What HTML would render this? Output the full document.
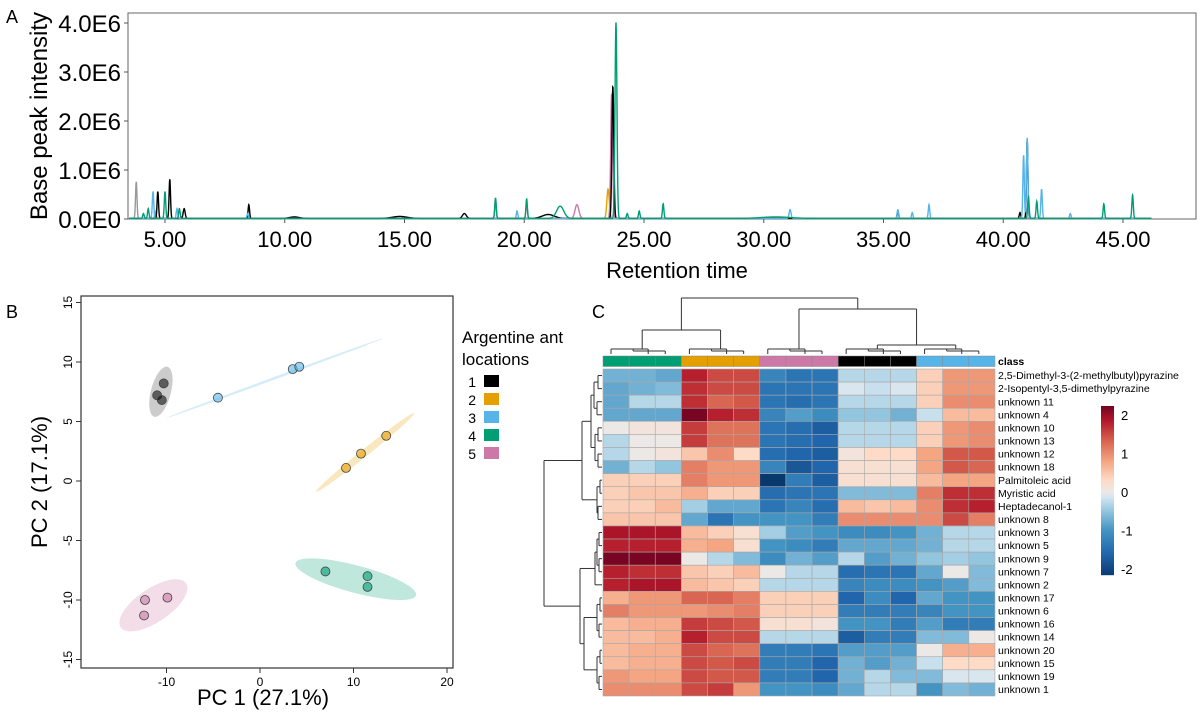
<!DOCTYPE html>
<html><head><meta charset="utf-8">
<style>
html,body{margin:0;padding:0;background:#fff;}
svg{display:block;font-family:"Liberation Sans",Arial,sans-serif;}
</style></head>
<body>
<svg id="fig" width="1200" height="720" viewBox="0 0 1200 720">
  <rect x="0" y="0" width="1200" height="720" fill="#fff"/>
  <!-- Panel A -->
  <g id="panelA">
    <text x="6" y="23" font-size="18">A</text>
    <rect x="128" y="13" width="1068" height="206" fill="none" stroke="#666" stroke-width="1"/>
    <text transform="translate(47,116) rotate(-90)" text-anchor="middle" font-size="24">Base peak intensity</text>
    <text x="677" y="278" text-anchor="middle" font-size="22">Retention time</text>
    <g id="aTicks"></g>
    <g id="aLines"></g>
  </g>
  <!-- Panel B -->
  <g id="panelB">
    <text x="6" y="318" font-size="18">B</text>
    <g id="bEll"></g>
    <g id="bPts"></g>
    <rect x="81" y="296" width="372" height="372" fill="none" stroke="#333" stroke-width="1.2"/>
    <g id="bTicks"></g>
    <text x="263" y="705" text-anchor="middle" font-size="22">PC 1 (27.1%)</text>
    <text transform="translate(47,482) rotate(-90)" text-anchor="middle" font-size="22">PC 2 (17.1%)</text>
    <g>
      <text x="462" y="343" font-size="17">Argentine ant</text>
      <text x="462" y="365" font-size="17">locations</text>
      <g id="legendItems"></g>
    </g>
  </g>
  <!-- Panel C -->
  <g id="panelC">
    <text x="592" y="318" font-size="18">C</text>
    <g id="cDend" fill="none" stroke="#333" stroke-width="1"></g>
    <g id="cClass"></g>
    <g id="cCells"></g>
    <g id="cLabels"></g>
    <g id="cBar"></g>
  </g>
</svg>
<script>
const NS='http://www.w3.org/2000/svg';
function mk(tag,attrs,parent){const e=document.createElementNS(NS,tag);for(const k in attrs)e.setAttribute(k,attrs[k]);parent.appendChild(e);return e;}
const COLORS={black:'#000000',orange:'#E69F00',blue:'#56B4E9',green:'#009E73',pink:'#CC79A7',grey:'#999999'};

// ===== Panel A data =====
const aXTicks=[5,10,15,20,25,30,35,40,45];
const aXTickLabels=['5.00','10.00','15.00','20.00','25.00','30.00','35.00','40.00','45.00'];
const aYTicks=[0,1,2,3,4];
const aYTickLabels=['0.0E0','1.0E6','2.0E6','3.0E6','4.0E6'];
// peaks: [retention time, intensity (E6), width (min)]
const peaksGrey=[[3.8,0.75,0.03]];
const peaksBlack=[[4.7,0.55,0.03],[5.2,0.8,0.03],[5.8,0.2,0.04],[8.5,0.28,0.03],[10.4,0.03,0.2],[14.8,0.04,0.3],[17.5,0.1,0.08],[21.0,0.08,0.25],[23.7,2.7,0.04],[35.6,0.15,0.03],[40.7,0.12,0.03],[41.0,1.6,0.03]];
const peaksOrange=[[4.6,0.15,0.03],[23.5,0.6,0.05]];
const peaksBlue=[[4.5,0.55,0.03],[5.5,0.2,0.03],[8.45,0.1,0.03],[19.7,0.15,0.03],[31.1,0.18,0.04],[35.6,0.18,0.03],[36.2,0.12,0.03],[36.9,0.28,0.03],[40.85,1.3,0.03],[41.0,1.65,0.03],[41.6,0.6,0.03],[42.8,0.1,0.03]];
const peaksGreen=[[4.1,0.1,0.03],[4.3,0.2,0.03],[5.0,0.55,0.03],[5.6,0.2,0.03],[18.8,0.42,0.03],[20.1,0.4,0.03],[21.5,0.25,0.15],[23.83,4.0,0.04],[24.3,0.1,0.03],[24.8,0.15,0.03],[25.8,0.3,0.03],[30.5,0.03,0.6],[41.05,0.45,0.03],[41.4,0.35,0.03],[44.2,0.3,0.03],[45.4,0.48,0.03]];
const peaksPink=[[18.8,0.4,0.03],[20.1,0.3,0.03],[22.2,0.28,0.08],[23.65,2.55,0.04]];
const aSeries=[['grey',peaksGrey],['orange',peaksOrange],['pink',peaksPink],['black',peaksBlack],['blue',peaksBlue],['green',peaksGreen]];

const ax=t=>165+(t-5)*23.95;
const ay=v=>219-v*49;
(function(){
  const g=document.getElementById('aTicks');
  aXTicks.forEach((t,i)=>{
    const l=mk('line',{x1:ax(t),x2:ax(t),y1:219,y2:223,stroke:'#555'},g);
    
    
    const tx=mk('text',{x:ax(t),y:247,'text-anchor':'middle','font-size':22},g);tx.textContent=aXTickLabels[i];
    
    
  });
  aYTicks.forEach((v,i)=>{
    const l=mk('line',{x1:124,x2:128,y1:ay(v),y2:ay(v),stroke:'#555'},g);
    
    
    const tx=mk('text',{x:121,y:ay(v)+9,'text-anchor':'end','font-size':24},g);tx.textContent=aYTickLabels[i];
    
    
  });
  const lg=document.getElementById('aLines');
  aSeries.forEach(([c,peaks])=>{
    const pts=[];
    for(let px=129;px<=ax(46.2);px+=0.25){
      const t=5+(px-165)/23.95;let v=0.012;
      peaks.forEach(([pt,h,w])=>{const d=(t-pt)/w;if(Math.abs(d)<6)v+=h*Math.exp(-0.5*d*d);});
      pts.push(px.toFixed(2)+','+ay(v).toFixed(2));
    }
    const p=mk('polyline',{points:pts.join(' '),fill:'none',stroke:COLORS[c],'stroke-width':1.4},lg);
    
    
  });
})();

// ===== Panel B data =====
const bTicksX=[-10,0,10,20];
const bTicksY=[-15,-10,-5,0,5,10,15];
const bGroups=['black','orange','blue','green','pink'];
const bPC1=[[-10.3,-11,-10.5],[9.2,10.8,13.5],[3.5,4.2,-4.5],[7,11.5,11.5],[-12.3,-12.4,-9.9]];
const bPC2=[[8.2,7.2,6.8],[1.1,2.3,3.8],[9.4,9.6,7.0],[-7.6,-8.0,-8.9],[-10.0,-11.3,-9.8]];
const bEllEnds=[[-11.3,5.4,-9.9,9.6],[6,-0.9,16.5,5.7],[-10,5.3,13.2,12.0],[3.8,-6.9,16.7,-9.6],[-14.9,-12.3,-7.9,-8.6]];
const bEllMinor=[0.95,0.35,0.12,1.3,1.6];
const bx=v=>260+v*9.35;
const by=v=>481-v*11.9;
(function(){
  const g=document.getElementById('bTicks');
  bTicksX.forEach(v=>{
    const l=mk('line',{x1:bx(v),x2:bx(v),y1:668,y2:673,stroke:'#333'},g);
    
    
    const t=mk('text',{x:bx(v),y:686,'text-anchor':'middle','font-size':12},g);t.textContent=v;
    
    
  });
  bTicksY.forEach(v=>{
    const l=mk('line',{x1:76,x2:81,y1:by(v),y2:by(v),stroke:'#333'},g);
    
    
    const t=mk('text',{transform:`translate(72,${by(v)}) rotate(-90)`,'text-anchor':'middle','font-size':12},g);t.textContent=v;
    
    
  });
  const eg=document.getElementById('bEll'),pg=document.getElementById('bPts');
  bGroups.forEach((c,i)=>{
    const [x1,y1,x2,y2]=bEllEnds[i];
    const X1=bx(x1),Y1=by(y1),X2=bx(x2),Y2=by(y2);
    const cx=(X1+X2)/2,cy=(Y1+Y2)/2,rx=Math.hypot(X2-X1,Y2-Y1)/2,ang=Math.atan2(Y2-Y1,X2-X1)*180/Math.PI;
    const ry=Math.max(1.2,bEllMinor[i]*10.5);
    const e=mk('ellipse',{cx,cy,rx,ry,transform:`rotate(${ang} ${cx} ${cy})`,fill:COLORS[c==='black'?'grey':c],'fill-opacity':c==='black'?0.5:0.25},eg);
    
    
    bPC1[i].forEach((v,j)=>{
      const p=mk('circle',{cx:bx(v),cy:by(bPC2[i][j]),r:4.5,fill:COLORS[c],'fill-opacity':c==='black'?0.55:0.6,stroke:'#444','stroke-width':0.8},pg);
      
      
    });
  });
  const lg=document.getElementById('legendItems');
  bGroups.forEach((c,i)=>{
    const y=381+i*18;
    const t=mk('text',{x:476,y:y+6,'text-anchor':'end','font-size':14},lg);t.textContent=i+1;
    
    
    const r=mk('rect',{x:484,y:y-6,width:15,height:12,fill:COLORS[c]},lg);
    
    
  });
})();

// ===== Panel C data =====
const cRows=['2,5-Dimethyl-3-(2-methylbutyl)pyrazine','2-Isopentyl-3,5-dimethylpyrazine','unknown 11','unknown 4','unknown 10','unknown 13','unknown 12','unknown 18','Palmitoleic acid','Myristic acid','Heptadecanol-1','unknown 8','unknown 3','unknown 5','unknown 9','unknown 7','unknown 2','unknown 17','unknown 6','unknown 16','unknown 14','unknown 20','unknown 15','unknown 19','unknown 1'];
const cClasses=['green','green','green','orange','orange','orange','pink','pink','pink','black','black','black','blue','blue','blue'];
const cValues=[
[-0.7,-0.7,-0.8,1.8,1.5,1.5,-1.2,-1.4,-1.4,-0.3,-0.3,-0.3,0.4,0.9,0.9],
[-0.8,-0.7,-0.6,1.7,1.5,1.5,-1.4,-1.4,-1.4,-0.1,-0.2,-0.1,0.4,0.9,0.9],
[-0.8,-0.3,-0.3,1.7,1.3,1.4,-1.4,-1.5,-1.4,-0.3,-0.3,-0.3,0.4,1.0,1.0],
[-0.8,-0.8,-0.8,2.2,1.8,1.7,-1.2,-0.9,-1.1,-0.5,-0.5,-0.7,-0.2,0.6,0.6],
[0.0,0.1,0.1,1.6,1.2,1.2,-1.4,-1.5,-1.7,-0.3,-0.3,-0.3,0.4,0.9,1.0],
[-0.3,0.0,0.0,1.6,1.2,1.2,-1.4,-1.5,-1.6,-0.3,-0.3,-0.3,0.4,0.9,1.0],
[-0.3,0.0,0.1,0.5,1.0,0.3,-1.5,-1.6,-1.7,0.1,0.3,0.3,0.8,1.4,1.4],
[-0.7,-0.3,-0.5,1.1,0.9,0.9,-1.2,-1.8,-1.6,0.2,0.2,0.2,0.8,1.4,1.3],
[0.4,0.4,0.4,1.1,0.9,0.9,-2.2,-1.3,-1.7,0.2,0.2,0.2,0.6,0.8,0.8],
[0.4,0.5,0.5,0.7,0.4,0.4,-1.5,-1.4,-1.4,-0.6,-0.6,-0.6,1.1,1.7,1.7],
[0.4,0.4,0.6,-0.4,-0.8,-0.8,-1.4,-1.2,-1.5,0.6,0.5,0.6,1.0,1.7,1.8],
[0.5,0.5,0.5,-0.8,-1.4,-1.0,-1.0,-1.0,-1.3,1.0,1.0,1.0,1.0,1.5,1.1],
[1.9,1.9,1.9,0.6,0.4,0.2,-0.4,-0.9,-1.0,-1.1,-1.1,-1.0,-0.7,-0.3,-0.3],
[1.8,1.8,1.8,0.7,0.8,0.2,-1.0,-1.1,-1.3,-0.8,-0.8,-0.8,-0.7,-0.3,-0.3],
[2.2,2.2,2.2,0.0,-0.3,-0.6,-1.1,-0.7,-0.9,-0.3,-0.9,-0.7,-0.5,-0.4,-0.5],
[1.8,1.7,1.7,0.5,0.4,0.6,0.0,-0.3,-0.3,-1.5,-1.4,-1.4,-0.8,0.0,-0.6],
[1.8,1.9,1.9,0.6,0.5,0.4,-0.3,-0.3,-0.3,-1.2,-1.1,-1.1,-1.0,-0.9,-0.6],
[0.7,0.9,0.9,1.3,1.3,1.1,0.4,0.4,0.4,-1.6,-1.1,-1.6,-0.8,-1.0,-1.0],
[1.1,0.9,0.9,0.9,1.0,1.1,0.4,0.4,0.4,-1.3,-1.3,-1.3,-1.2,-1.0,-1.0],
[0.6,0.7,0.7,1.6,1.5,1.4,0.2,0.2,0.1,-1.0,-1.0,-1.3,-0.9,-1.3,-1.3],
[0.6,0.6,0.7,1.8,1.5,1.5,-0.3,-0.3,-0.3,-1.7,-1.3,-1.3,-0.6,-0.6,0.0],
[0.6,0.7,0.7,1.5,1.3,1.2,-1.3,-1.3,-1.4,-0.9,-0.9,-0.9,0.0,0.7,0.7],
[0.6,0.7,0.7,1.5,1.4,1.5,-1.3,-1.3,-1.6,-0.7,-0.9,-0.7,-0.2,0.3,0.3],
[0.9,0.8,0.8,1.5,1.4,1.4,-1.3,-1.3,-1.6,-0.7,-0.3,-0.6,-0.6,-0.1,-0.1],
[1.0,1.0,1.0,1.5,1.6,0.9,-1.0,-1.0,-1.1,-0.8,-0.3,-0.3,-1.0,-0.6,-0.7]];
const cBarTicks=[2,1,0,-1,-2];

const stops=[[-2.3,[5,48,97]],[-1.6,[33,102,172]],[-1.0,[67,147,195]],[-0.5,[146,197,222]],[-0.15,[209,229,240]],[0,[236,232,230]],[0.3,[253,219,199]],[0.8,[244,165,130]],[1.35,[214,96,77]],[1.85,[178,24,43]],[2.3,[103,0,31]]];
function col(v){
  if(v<=stops[0][0])return `rgb(${stops[0][1]})`;
  for(let i=1;i<stops.length;i++){if(v<=stops[i][0]){const [a,ca]=stops[i-1],[b,cb]=stops[i];const f=(v-a)/(b-a);return `rgb(${ca.map((c,k)=>Math.round(c+(cb[k]-c)*f)).join(',')})`;}}
  return `rgb(${stops[stops.length-1][1]})`;
}
const CX0=603,CW=26.13,CY0=369,RH=13.08;
const cx=j=>CX0+j*CW, cy=i=>CY0+i*RH;
(function(){
  const cg=document.getElementById('cCells');
  cValues.forEach((row,i)=>row.forEach((v,j)=>{
    const r=mk('rect',{x:cx(j),y:cy(i),width:CW,height:RH,fill:col(v),stroke:'#a8a8a8','stroke-width':0.6},cg);
    
    
  }));
  const kg=document.getElementById('cClass');
  cClasses.forEach((c,j)=>{
    const r=mk('rect',{x:cx(j),y:356,width:CW,height:10.5,fill:COLORS[c],stroke:'#888','stroke-width':0.5},kg);
    
    
  });
  const lg=document.getElementById('cLabels');
  const ct=mk('text',{x:998,y:365,'font-size':10.5,'font-weight':'bold'},lg);ct.textContent='class';
  
  
  cRows.forEach((n,i)=>{
    const t=mk('text',{x:998,y:cy(i)+RH/2+3.6,'font-size':10.5},lg);t.textContent=n;
    
    
  });
  const bg=document.getElementById('cBar');
  const bv=v=>492-v*38.5;
  for(let y=406;y<575;y+=1){
    const v=(492-y-0.5)/38.5;
    mk('rect',{x:1101,y:y,width:13,height:1.2,fill:col(v)},bg);
  }
  cBarTicks.forEach(v=>{
    const t=mk('text',{x:1121,y:bv(v)+5,'font-size':13},bg);t.textContent=v;
    
    
  });
  const dg=document.getElementById('cDend');
  function seg(x1,y1,x2,y2){mk('path',{d:`M${x1},${y1}L${x2},${y2}`},dg);}
  function ujoin(xa,xb,ya,yb,y){seg(xa,ya,xa,y);seg(xa,y,xb,y);seg(xb,y,xb,yb);}
  const colC=g=>cx(g*3+1.5);
  [0,1,2,3,4].forEach(g=>{ujoin(cx(g*3)+8,cx(g*3+1.5)+6,354,354,349);ujoin(cx(g*3+1)+4,cx(g*3+2)+10,349,354,351);});
  ujoin(colC(0),colC(1),349,349,330);
  ujoin(colC(3),colC(4),349,349,345);
  const br=(colC(3)+colC(4))/2;
  ujoin(colC(2),br,349,345,309);
  const bl=(colC(0)+colC(1))/2;
  ujoin(bl,(colC(2)+br)/2,330,309,298);
  function hjoin(ya,yb,xa,xb,x){seg(xa,ya,x,ya);seg(x,ya,x,yb);seg(x,yb,xb,yb);}
  const ry=i=>cy(i)+RH/2;
  hjoin(ry(0),ry(1),602,602,598);hjoin(ry(2),ry(3),602,602,597);
  hjoin((ry(0)+ry(1))/2,(ry(2)+ry(3))/2,598,597,594);
  hjoin(ry(4),ry(5),602,602,598);hjoin(ry(6),ry(7),602,602,598);
  hjoin((ry(4)+ry(5))/2,(ry(6)+ry(7))/2,598,598,595);
  const t1=((ry(0)+ry(3))/2+(ry(4)+ry(7))/2)/2;
  hjoin((ry(0)+ry(3))/2,(ry(4)+ry(7))/2,594,595,591);
  hjoin(ry(8),ry(9),602,602,600);hjoin(ry(10),ry(11),602,602,598);
  const t2=((ry(8)+ry(9))/2+(ry(10)+ry(11))/2)/2;
  hjoin((ry(8)+ry(9))/2,(ry(10)+ry(11))/2,600,598,597);
  const top=(t1+t2)/2;
  hjoin(t1,t2,591,597,582);
  hjoin(ry(12),ry(13),602,602,599);hjoin(ry(14),ry(15),602,602,599);
  hjoin((ry(12)+ry(13))/2,(ry(14)+ry(15))/2,599,599,597);
  const b1a=((ry(12)+ry(13))/2+(ry(14)+ry(15))/2)/2;
  hjoin(b1a,ry(16),597,602,595);
  const b1=(b1a+ry(16))/2;
  hjoin(ry(17),ry(18),602,602,600);hjoin(ry(19),ry(20),602,602,599);
  const b2a=(ry(17)+ry(18))/2,b2b=(ry(19)+ry(20))/2;
  hjoin(b2a,b2b,600,599,597);
  hjoin(ry(21),ry(22),602,602,600);hjoin(ry(23),ry(24),602,602,599);
  const b3a=(ry(21)+ry(22))/2,b3b=(ry(23)+ry(24))/2;
  hjoin(b3a,b3b,600,599,597);
  const b2=(b2a+b2b)/2,b3=(b3a+b3b)/2;
  hjoin(b2,b3,597,597,584);
  const b23=(b2+b3)/2;
  hjoin(b1,b23,595,584,580);
  const bot=(b1+b23)/2;
  hjoin(top,bot,582,580,544);
})();
</script>
</body></html>
